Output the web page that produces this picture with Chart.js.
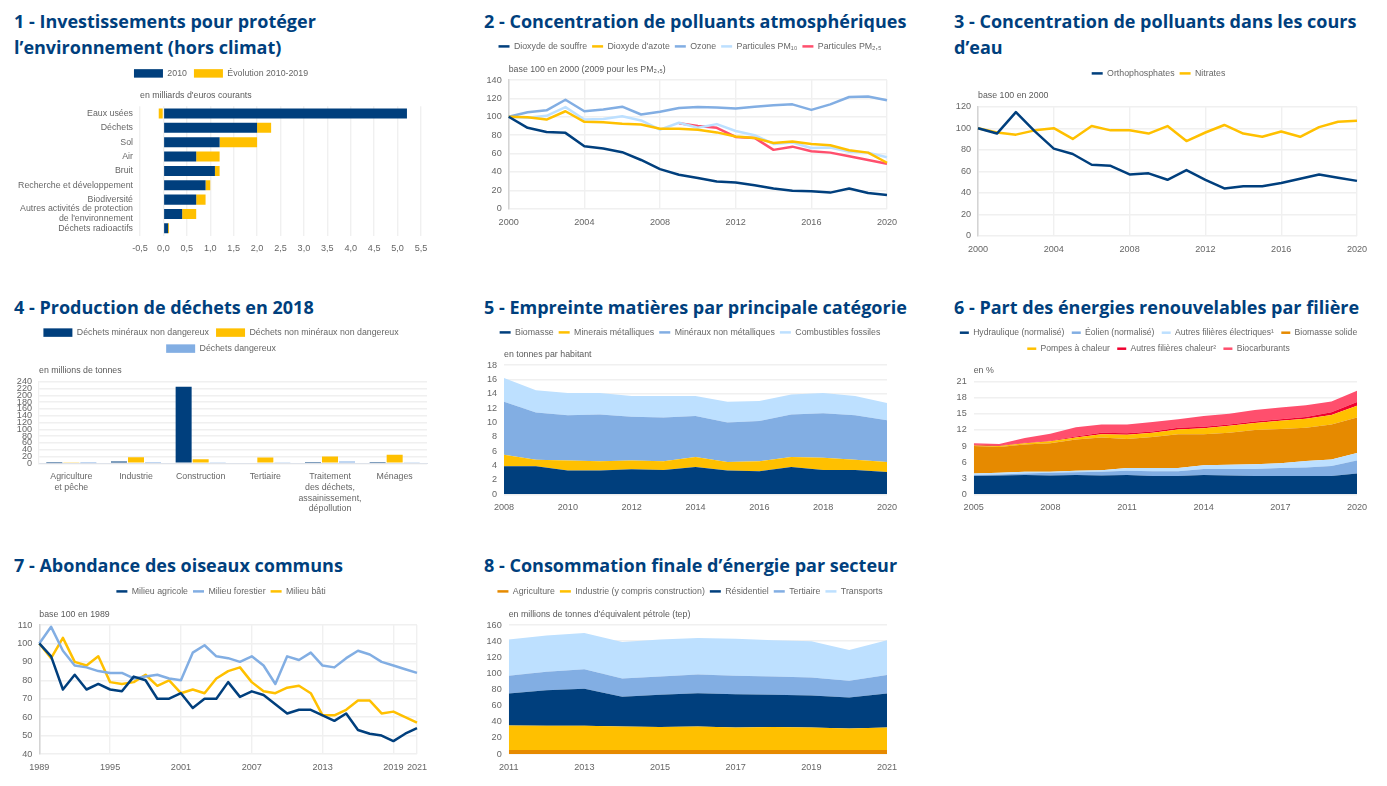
<!DOCTYPE html>
<html lang="fr">
<head>
<meta charset="utf-8">
<title>Indicateurs environnement</title>
<script src="https://cdn.jsdelivr.net/npm/chart.js@4"></script>
<style>
html,body{margin:0;padding:0;background:#fff;overflow:hidden;width:1387px;height:786px;position:relative}
canvas{position:absolute;display:block}
h2{position:absolute;margin:0;font:700 18px/26px "Open Sans",sans-serif;color:#003f7d;white-space:nowrap}
</style>
</head>
<body>
<h2 style="left:14px;top:8px">1 - Investissements pour protéger<br>l’environnement (hors climat)</h2>
<h2 style="left:484px;top:8px">2 - Concentration de polluants atmosphériques</h2>
<h2 style="left:954px;top:8px">3 - Concentration de polluants dans les cours<br>d’eau</h2>
<h2 style="left:14px;top:294px">4 - Production de déchets en 2018</h2>
<h2 style="left:484px;top:294px">5 - Empreinte matières par principale catégorie</h2>
<h2 style="left:954px;top:294px">6 - Part des énergies renouvelables par filière</h2>
<h2 style="left:14px;top:552px">7 - Abondance des oiseaux communs</h2>
<h2 style="left:484px;top:552px">8 - Consommation finale d’énergie par secteur</h2>
<canvas id="c1"></canvas><canvas id="c2"></canvas><canvas id="c3"></canvas><canvas id="c4"></canvas>
<canvas id="c5"></canvas><canvas id="c6"></canvas><canvas id="c7"></canvas><canvas id="c8"></canvas>
<script>
const NAVY='#003f7d',YELLOW='#ffc000',BLUE='#82aee3',LIGHT='#bde0ff',PINK='#ff4f6d',ORANGE='#e68a00',RED='#f0002f';
const GREY_TXT='#666666',GRID='#f0f0f0',AXIS='#d4d4d4';

// 1 - Investissements
const invCategories=['Eaux usées','Déchets','Sol','Air','Bruit','Recherche et développement','Biodiversité',['Autres activités de protection','de l\'environnement'],'Déchets radioactifs'];
const inv2010=[5.2,2,1.2,0.7,1.1,0.9,0.7,0.4,0.1];
const invEvolution=[-0.1,0.3,0.8,0.5,0.1,0.1,0.2,0.3,0.02];

// 2 - Polluants atmosphériques
const airYears=['2000','2001','2002','2003','2004','2005','2006','2007','2008','2009','2010','2011','2012','2013','2014','2015','2016','2017','2018','2019','2020'];
const airTicks=['2000','2004','2008','2012','2016','2020'];
const airSO2=[100,88,83.5,82.5,68,65.5,61.5,53,43,37,33.5,29.5,28.5,25.5,22,19.5,19,17.5,22,17,15];
const airNO2=[100,99.5,97,106,94.5,94,92.5,91.5,87,87,86,83,78.5,77,71.5,73,70.5,69,63.5,61,50];
const airO3=[100,105,107,118.5,106,108,111,102.5,105.5,109.5,110.5,110,109,111,112.5,113.5,107.5,113.5,121.5,122,118];
const airPM10=[100,99,101,110.5,97,97.5,100.5,96,86,93.5,88,92,84.5,80,70.5,72,66,66.5,62,61,56];
const airPM25=[null,null,null,null,null,null,null,null,null,93,90,88,78,77,64,67.5,62.5,61,57,53,49];

// 3 - Cours d'eau
const eauOrtho=[100,95,115,97,81,76,66,65,57,58,52,61,52,44,46,46,49,53,57,54,51];
const eauNitrates=[100,96,94,98,100,90,102,98,98,95,102,88,96,103,95,92,97,92,101,106,107];

// 4 - Déchets
const dechetCategories=[['Agriculture','et pêche'],'Industrie','Construction','Tertiaire',['Traitement','des déchets,','assainissement,','dépollution'],'Ménages'];
const dechetMineraux=[0.2,5,225,2,4,4];
const dechetNonMineraux=[1.5,18,12,17,20,25];
const dechetDangereux=[0.3,4,3,1.5,5,1.5];

// 5 - Empreinte matières
const matYears=['2008','2009','2010','2011','2012','2013','2014','2015','2016','2017','2018','2019','2020'];
const matTicks=['2008','2010','2012','2014','2016','2018','2020'];
const matBiomasse=[3.9,3.9,3.3,3.3,3.5,3.4,3.8,3.3,3.2,3.8,3.4,3.4,3.1];
const matMinerais=[1.6,0.9,1.4,1.3,1.2,1.2,1.4,1.2,1.4,1.4,1.7,1.4,1.4];
const matNonMetal=[7.4,6.6,6.3,6.5,6.1,6.1,5.7,5.5,5.6,5.9,6.2,6.2,5.8];
const matFossiles=[3.3,3.1,3.1,3,2.9,3,2.8,2.9,2.8,2.8,2.8,2.7,2.4];

// 6 - Renouvelables
const enrYears=['2005','2006','2007','2008','2009','2010','2011','2012','2013','2014','2015','2016','2017','2018','2019','2020'];
const enrTicks=['2005','2008','2011','2014','2017','2020'];
const enrHydro=[3.4,3.5,3.6,3.5,3.6,3.5,3.6,3.4,3.4,3.6,3.5,3.4,3.4,3.4,3.4,3.9];
const enrEolien=[0.2,0.2,0.3,0.5,0.5,0.7,0.8,0.9,0.9,1.1,1.2,1.3,1.5,1.6,1.9,2.4];
const enrAutresElec=[0.3,0.3,0.3,0.2,0.3,0.3,0.5,0.6,0.6,0.7,0.8,0.9,0.9,1.2,1.2,1.4];
const enrBiomasse=[5.1,4.8,5.1,5.3,5.8,6.1,5.4,5.8,6.3,5.8,6,6.4,6.4,6.2,6.5,6.6];
const enrPAC=[0.1,0.2,0.2,0.4,0.4,0.6,0.8,0.8,0.9,1.1,1.3,1.3,1.5,1.7,1.8,2.2];
const enrAutresChaleur=[0.2,0.1,0.1,0.1,0.2,0.3,0.3,0.2,0.3,0.3,0.2,0.3,0.3,0.3,0.5,0.7];
const enrBiocarb=[0.2,0.3,0.9,1.3,1.7,1.5,1.6,1.8,1.6,2,2,2.1,2.2,2.2,2,2.1];

// 7 - Oiseaux
const oisYears=['1989','1990','1991','1992','1993','1994','1995','1996','1997','1998','1999','2000','2001','2002','2003','2004','2005','2006','2007','2008','2009','2010','2011','2012','2013','2014','2015','2016','2017','2018','2019','2020','2021'];
const oisTicks=['1989','1995','2001','2007','2013','2019','2021'];
const oisAgricole=[100,93,75,83,75,78,75,74,82,80,70,70,73,65,70,70,79,71,74,72,67,62,64,64,61,58,62,53,51,50,47,51,54];
const oisForestier=[100,109,96,88,87,85,84,84,81,82,83,81,80,95,99,93,92,90,93,88,78,93,91,95,88,87,92,96,94,90,88,86,84];
const oisBati=[100,92,103,90,88,93,79,78,79,83,77,80,73,75,73,81,85,87,79,74,73,76,77,73,61,61,64,69,69,62,63,60,57];

// 8 - Consommation
const conYears=['2011','2012','2013','2014','2015','2016','2017','2018','2019','2020','2021'];
const conTicks=['2011','2013','2015','2017','2019','2021'];
const conAgriculture=[5,5,5,5,5,5,5,5,5,5,5];
const conIndustrie=[30.5,30,30,29,28.5,29,28,28.5,28,26.5,28];
const conResidentiel=[39.5,44,46,37,40,41.5,41,40,39.5,38.5,42];
const conTertiaire=[22,23,24,22.5,22.5,23,23,22.5,22.5,21,23];
const conTransports=[45,45,45,45.5,46,45.5,46,45,45,38,43];

const FS=8.8,TICK=9.1;
Chart.defaults.font.family='"Liberation Sans",Arial,sans-serif';
Chart.defaults.font.size=FS;
Chart.defaults.color=GREY_TXT;
Chart.defaults.animation=false;

function layoutPlugin(b){
  return {id:'pinLegend',
    beforeLayout(chart){
      const lg=chart.legend;
      if(lg && !lg._pinned){
        lg._pinned=true;
        const baseFit=lg.fit;
        lg.fit=function(){
          this.maxWidth=chart.width;
          baseFit.call(this);
          this.height=b.unitY-5-b.top;
        };
      }
    },
    afterLayout(chart){
      const lg=chart.legend;
      if(lg){
        lg.left=0;lg.right=chart.width;lg.width=chart.width;
        lg.adjustHitBoxes();
      }
    }};
}
function draw(id,b,type,labels,datasets,unit,scales,isBox,indexAxis){
  const pad=b.pad||5,legFS=b.legFS||FS,mark=b.mark||11;
  b.top=Math.round(b.legY-pad-legFS/2);
  const cv=document.getElementById(id);
  cv.style.left=b.left+'px';cv.style.top=b.top+'px';
  const w=b.right-b.left,h=b.bottom-b.top;
  cv.width=w;cv.height=h;cv.style.width=w+'px';cv.style.height=h+'px';
  scales.x.afterFit=s=>{s.height=b.bottom-b.py1;};
  scales.y.afterFit=s=>{s.width=b.px0-b.left;};
  return new Chart(cv,{type,
    data:{labels,datasets},
    plugins:[layoutPlugin(b)],
    options:{
      indexAxis:indexAxis||'x',responsive:false,maintainAspectRatio:false,animation:false,devicePixelRatio:1,
      elements:{point:{radius:0,hoverRadius:0},line:{tension:0,borderJoinStyle:'round'}},
      layout:{padding:{top:0,left:0,bottom:0,right:b.right-b.px1}},
      scales,
      plugins:{
        tooltip:{enabled:false},
        title:{display:true,text:unit,align:'start',fullSize:false,weight:100,font:{size:FS,weight:'normal',lineHeight:1.3},color:'#5a5a5a',
          padding:{top:0,bottom:b.py0-b.unitY-6.44}},
        legend:{display:true,position:'top',align:'center',labels:isBox?
          {boxWidth:29,boxHeight:8.5,padding:pad,font:{size:legFS},color:GREY_TXT}:
          {usePointStyle:true,pointStyle:'line',pointStyleWidth:mark,padding:pad,font:{size:legFS},color:GREY_TXT,
           generateLabels(c){return Chart.defaults.plugins.legend.labels.generateLabels(c).map(l=>({...l,lineWidth:2.5}));}}}
      }
    }});
}
function axisY(min,max,step,gridOn,extra){
  return Object.assign({type:'linear',min,max,grid:{display:gridOn,color:GRID,lineWidth:1.4,drawTicks:false},
    border:{display:false},ticks:{stepSize:step,padding:7,autoSkip:false,font:{size:TICK},color:GREY_TXT}},extra||{});
}
function axisX(ticks,vertical){
  return {type:'category',offset:false,
    grid:{display:vertical,color:GRID,lineWidth:1.4,drawTicks:false},
    border:{display:false},
    afterBuildTicks:s=>{s.ticks=s.ticks.filter(t=>ticks.includes(s.getLabelForValue(t.value)));},
    ticks:{autoSkip:false,maxRotation:0,padding:8,font:{size:TICK},color:GREY_TXT}};
}
const leftAxis={border:{display:true,color:AXIS,width:1.5}};
function line(label,data,color){return {label,data,borderColor:color,backgroundColor:color,borderWidth:2.5,fill:false,spanGaps:false};}
function area(label,data,color,i){return {label,data,borderColor:color,backgroundColor:color,borderWidth:0,fill:i===0?'origin':'-1',stack:'s'};}

const frNum=v=>Number(v).toFixed(1).replace('.',',');

// Chart 1
draw('c1',{left:0,legY:73,right:442,bottom:270,px0:140,px1:421,py0:106.3,py1:235.5,unitY:95,pad:7},'bar',invCategories,[
  {label:'2010',data:inv2010,backgroundColor:NAVY,barPercentage:0.7,categoryPercentage:1,stack:'a'},
  {label:'Évolution 2010-2019',data:invEvolution,backgroundColor:YELLOW,barPercentage:0.7,categoryPercentage:1,stack:'a'}
],'en milliards d\'euros courants',{
  x:{type:'linear',min:-0.5,max:5.5,stacked:true,grid:{color:GRID,lineWidth:1.4,drawTicks:false},border:{display:false},
     ticks:{stepSize:0.5,padding:8,maxRotation:0,autoSkip:false,font:{size:TICK},color:GREY_TXT,callback:frNum}},
  y:{type:'category',stacked:true,grid:{display:false,drawTicks:false},border:{display:false},
     ticks:{padding:7,autoSkip:false,font:{size:FS,lineHeight:1.15},color:GREY_TXT}}
},true,'y');

// Chart 2
draw('c2',{left:470,legY:46,right:910,bottom:270,px0:508.7,px1:887,py0:80,py1:208.7,unitY:69},'line',airYears,[
  line('Dioxyde de souffre',airSO2,NAVY),line('Dioxyde d\'azote',airNO2,YELLOW),line('Ozone',airO3,BLUE),
  line('Particules PM₁₀',airPM10,LIGHT),line('Particules PM₂,₅',airPM25,PINK)
],'base 100 en 2000 (2009 pour les PM₂,₅)',{x:axisX(airTicks,true),y:axisY(0,140,20,true,leftAxis)});

// Chart 3
draw('c3',{left:930,legY:73,right:1387,bottom:270,px0:978,px1:1357,py0:106.7,py1:235.7,unitY:95},'line',airYears,[
  line('Orthophosphates',eauOrtho,NAVY),line('Nitrates',eauNitrates,YELLOW)
],'base 100 en 2000',{x:axisX(airTicks,true),y:axisY(0,120,20,true,leftAxis)});

// Chart 4
draw('c4',{left:0,legY:333,right:442,bottom:525,px0:39,px1:427,py0:381.7,py1:463.3,unitY:370,pad:7.2},'bar',dechetCategories,[
  {label:'Déchets minéraux non dangereux',data:dechetMineraux,backgroundColor:NAVY,barPercentage:0.94,categoryPercentage:0.79},
  {label:'Déchets non minéraux non dangereux',data:dechetNonMineraux,backgroundColor:YELLOW,barPercentage:0.94,categoryPercentage:0.79},
  {label:'Déchets dangereux',data:dechetDangereux,backgroundColor:BLUE,barPercentage:0.94,categoryPercentage:0.79}
],'en millions de tonnes',{
  x:{type:'category',grid:{display:false,drawTicks:false},border:{display:true,color:'#dfe3ea',width:1},
     ticks:{autoSkip:false,maxRotation:0,padding:8,font:{size:FS,lineHeight:1.22},color:GREY_TXT}},
  y:axisY(0,240,20,true,{border:{display:true,color:'#f0f0f0',width:1.2}})
},true);

// Chart 5
draw('c5',{left:470,legY:332,right:910,bottom:525,px0:504,px1:887,py0:365,py1:494.3,unitY:354},'line',matYears,[
  area('Biomasse',matBiomasse,NAVY,0),area('Minerais métalliques',matMinerais,YELLOW,1),
  area('Minéraux non métalliques',matNonMetal,BLUE,2),area('Combustibles fossiles',matFossiles,LIGHT,3)
],'en tonnes par habitant',{x:axisX(matTicks,false),y:axisY(0,18,2,true,{stacked:true})});

// Chart 6
draw('c6',{left:930,legY:333,right:1387,bottom:525,px0:973.7,px1:1357,py0:381.7,py1:494.3,unitY:370,pad:7.4,legFS:8.6,mark:9},'line',enrYears,[
  area('Hydraulique (normalisé)',enrHydro,NAVY,0),area('Éolien (normalisé)',enrEolien,BLUE,1),
  area('Autres filières électriques¹',enrAutresElec,LIGHT,2),area('Biomasse solide',enrBiomasse,ORANGE,3),
  area('Pompes à chaleur',enrPAC,YELLOW,4),area('Autres filières chaleur²',enrAutresChaleur,RED,5),
  area('Biocarburants',enrBiocarb,PINK,6)
],'en %',{x:axisX(enrTicks,false),y:axisY(0,21,3,true,{stacked:true})});

// Chart 7
draw('c7',{left:0,legY:591,right:442,bottom:780,px0:39.3,px1:417,py0:625,py1:754,unitY:614},'line',oisYears,[
  line('Milieu agricole',oisAgricole,NAVY),line('Milieu forestier',oisForestier,BLUE),line('Milieu bâti',oisBati,YELLOW)
],'base 100 en 1989',{x:axisX(oisTicks,true),y:axisY(40,110,10,true,leftAxis)});

// Chart 8
draw('c8',{left:470,legY:591,right:910,bottom:780,px0:508.7,px1:887,py0:625,py1:754,unitY:614},'line',conYears,[
  area('Agriculture',conAgriculture,ORANGE,0),area('Industrie (y compris construction)',conIndustrie,YELLOW,1),
  area('Résidentiel',conResidentiel,NAVY,2),area('Tertiaire',conTertiaire,BLUE,3),area('Transports',conTransports,LIGHT,4)
],'en millions de tonnes d\'équivalent pétrole (tep)',{x:axisX(conTicks,false),y:axisY(0,160,20,true,{stacked:true})});
</script>
</body>
</html>
